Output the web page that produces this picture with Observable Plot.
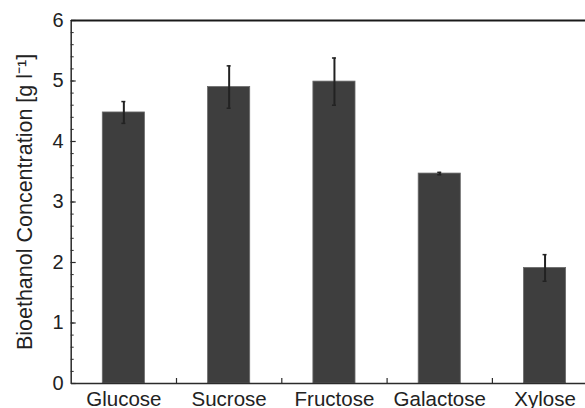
<!DOCTYPE html>
<html>
<head>
<meta charset="utf-8">
<script src="https://cdn.jsdelivr.net/npm/d3@7"></script>
<script src="https://cdn.jsdelivr.net/npm/@observablehq/plot@0.6"></script>
<style>
  html, body { margin: 0; padding: 0; background: #fff; overflow: hidden; }
  #chart svg { display: block; }
</style>
</head>
<body>
<div id="chart"></div>
<script>
const categories = ["Glucose", "Sucrose", "Fructose", "Galactose", "Xylose"];
const means = [4.48, 4.90, 4.99, 3.47, 1.91];
const errors = [0.18, 0.35, 0.39, 0.02, 0.22];
const yTicks = [0, 1, 2, 3, 4, 5, 6];
const yMinorTicks = d3.range(0, 6.0001, 0.2).map(v => +v.toFixed(1));
const yLabel = "Bioethanol Concentration [g l\u207B\u00B9]";

const data = categories.map((c, i) => ({
  cat: c, pos: i + 0.5, x1: i + 0.3, x2: i + 0.7,
  mean: means[i], lo: means[i] - errors[i], hi: means[i] + errors[i]
}));
const separators = d3.range(1, categories.length);

const ink = "#2b2b2b";
const chart = Plot.plot({
  width: 585,
  height: 408,
  marginLeft: 71,
  marginRight: 0,
  marginTop: 20,
  marginBottom: 25,
  style: { fontFamily: "Liberation Sans, Arial, sans-serif", fontSize: "20px", color: "#222", background: "#fff" },
  x: { domain: [0, categories.length], range: [70.7, 597.2] },
  y: { domain: [0, 6] },
  marks: [
    Plot.rectY(data, { x1: "x1", x2: "x2", y1: 0, y2: "mean", fill: "#3e3e3e", stroke: "#6a6a6a", strokeWidth: 0.8 }),
    Plot.ruleX(data, { x: "pos", y1: "lo", y2: "hi", stroke: "#222", strokeWidth: 2 }),
    Plot.ruleY(data, { x1: "pos", x2: "pos", y: "hi", stroke: "#222", strokeWidth: 1.5, insetLeft: -2, insetRight: -2 }),
    Plot.ruleY(data, { x1: "pos", x2: "pos", y: "lo", stroke: "#222", strokeWidth: 1.5, insetLeft: -2, insetRight: -2 }),
    // minor y ticks (inward)
    Plot.ruleY(yMinorTicks, { x1: 0, x2: 0, insetRight: -3, stroke: ink, strokeWidth: 1 }),
    // major y ticks (inward)
    Plot.ruleY(yTicks, { x1: 0, x2: 0, insetRight: -5, stroke: ink, strokeWidth: 1.2 }),
    // major y labels
    Plot.axisY(yTicks, { tickSize: 0, tickPadding: 8, tickFormat: d3.format("d"), fontSize: 20, fill: "#222", label: null }),
    // category separator ticks (inward)
    Plot.ruleX(separators, { y1: 0, y2: 0, insetTop: -5, stroke: ink, strokeWidth: 1.2 }),
    // category labels
    Plot.axisX(data.map(d => d.pos), { tickSize: 0, tickPadding: 8, tickFormat: (v) => categories[Math.floor(v)], label: null, fontSize: 20.5, fill: "#222" }),
    // y axis title
    Plot.text([yLabel], { frameAnchor: "left", rotate: -90, dx: -46, textAnchor: "middle", lineAnchor: "middle", fontSize: 21.5, fill: "#222" }),
    Plot.ruleX([0], { stroke: ink, strokeWidth: 1.5 }),
    Plot.ruleY([0], { stroke: ink, strokeWidth: 1.5 }),
    Plot.ruleY([6], { stroke: "#1a1a1a", strokeWidth: 2 })
  ]
});
document.getElementById("chart").appendChild(chart);
</script>
</body>
</html>
